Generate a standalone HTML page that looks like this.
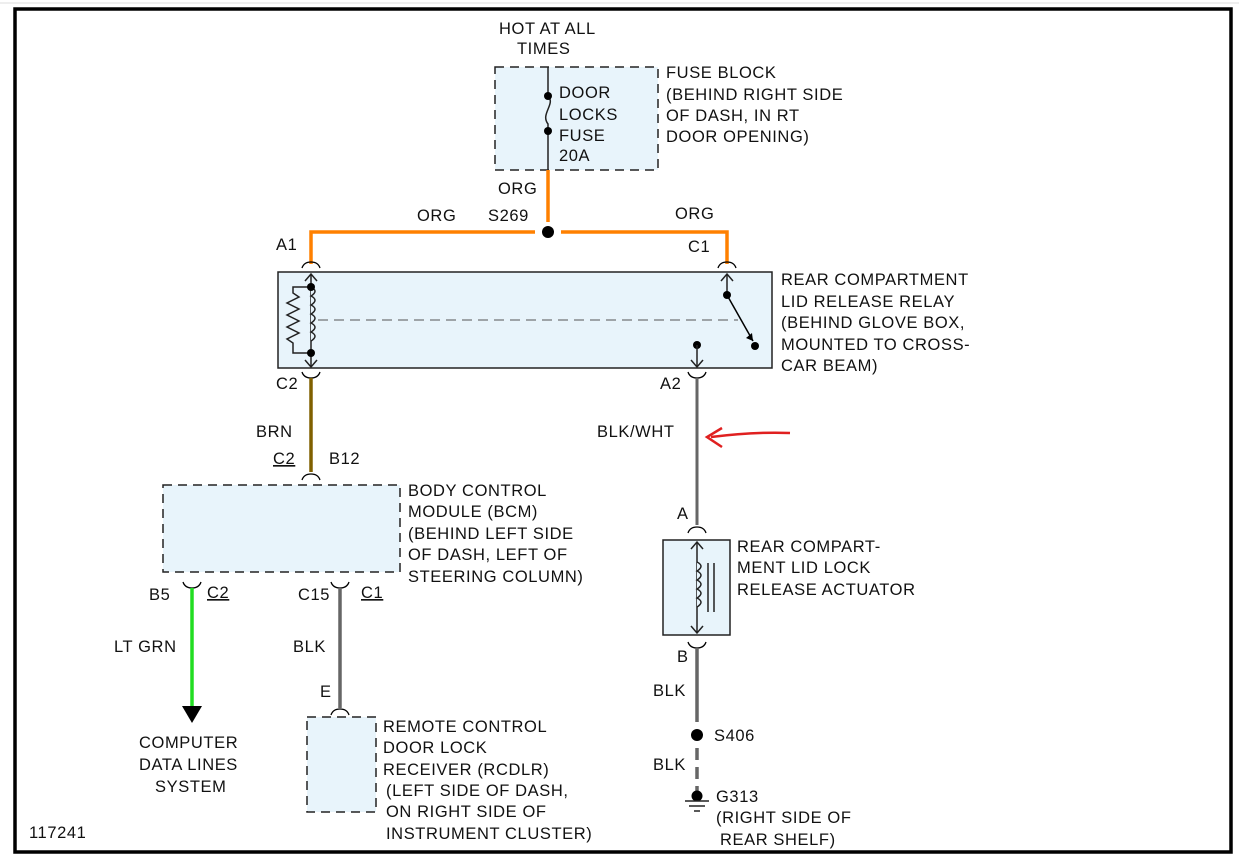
<!DOCTYPE html>
<html><head><meta charset="utf-8"><style>
html,body{margin:0;padding:0;background:#fff;}
svg{display:block;}
text{font-family:"Liberation Sans",Arial,sans-serif;font-size:16.5px;letter-spacing:0.6px;fill:#111;}
</style></head><body>
<svg width="1239" height="857" viewBox="0 0 1239 857" xmlns="http://www.w3.org/2000/svg">
<line x1="0" y1="3" x2="1239" y2="3" stroke="#ddd" stroke-width="1"/>
<rect x="15" y="9" width="1216" height="843" fill="#fff" stroke="#000" stroke-width="3.5"/>

<!-- Fuse block -->
<text x="499" y="34">HOT AT ALL</text>
<text x="517" y="54">TIMES</text>
<rect x="495" y="67" width="163" height="103" fill="#e8f4fb" stroke="#222" stroke-width="1.5" stroke-dasharray="9,6"/>
<line x1="548" y1="67" x2="548" y2="96" stroke="#222" stroke-width="1.5"/>
<path d="M548 96 C556 104,540 114,548 124 L548 130" fill="none" stroke="#222" stroke-width="1.5"/>
<line x1="548" y1="130" x2="548" y2="170" stroke="#222" stroke-width="1.5"/>
<circle cx="548" cy="96" r="4" fill="#000"/><circle cx="548" cy="131" r="4" fill="#000"/>
<text x="559" y="98">DOOR</text><text x="559" y="120">LOCKS</text><text x="559" y="141">FUSE</text><text x="559" y="161">20A</text>
<text x="666" y="78">FUSE BLOCK</text><text x="666" y="100">(BEHIND RIGHT SIDE</text><text x="666" y="121">OF DASH, IN RT</text><text x="666" y="142">DOOR OPENING)</text>

<!-- orange -->
<line x1="548" y1="170" x2="548" y2="222" stroke="#ff8000" stroke-width="3.5"/>
<text x="498" y="194">ORG</text>
<polyline points="311,264 311,232 535,232" fill="none" stroke="#ff8000" stroke-width="3.5"/>
<polyline points="561,232 727,232 727,264" fill="none" stroke="#ff8000" stroke-width="3.5"/>
<circle cx="548" cy="232" r="6" fill="#000"/>
<text x="417" y="221">ORG</text><text x="488" y="221">S269</text><text x="675" y="219">ORG</text>
<text x="276" y="250">A1</text><text x="688" y="252">C1</text>
<path d="M302 268 Q304 262 311 262 Q318 262 320 268" fill="none" stroke="#000" stroke-width="1.3"/>
<path d="M718 268 Q720 262 727 262 Q734 262 736 268" fill="none" stroke="#000" stroke-width="1.3"/>

<!-- relay -->
<rect x="278" y="272" width="494" height="96" fill="#e8f4fb" stroke="#222" stroke-width="1.5"/>
<line x1="311" y1="274" x2="311" y2="366" stroke="#222" stroke-width="1.5"/>
<path d="M305 281 L311 274 L317 281 M305 360 L311 367 L317 360" fill="none" stroke="#222" stroke-width="1.5"/>
<path d="M311 287 q8 4 0 9 q8 4 0 9 q8 4 0 9 q8 4 0 9 q8 4 0 9 q8 4 0 9" fill="#e8f4fb" stroke="#222" stroke-width="1.5"/>
<path d="M311 287 L293 287 L293 293 L299 297 L287 303 L299 309 L287 315 L299 321 L287 327 L299 333 L287 339 L293 343 L293 353 L311 353" fill="none" stroke="#222" stroke-width="1.5"/>
<circle cx="311" cy="287" r="4" fill="#000"/><circle cx="311" cy="353" r="4" fill="#000"/>
<line x1="318" y1="320" x2="738" y2="320" stroke="#555" stroke-width="1" stroke-dasharray="10,6"/>
<line x1="727" y1="274" x2="727" y2="295" stroke="#222" stroke-width="1.5"/>
<path d="M721 281 L727 274 L733 281" fill="none" stroke="#222" stroke-width="1.5"/>
<circle cx="727" cy="295" r="4" fill="#000"/>
<line x1="727" y1="295" x2="753" y2="341" stroke="#000" stroke-width="1.5"/>
<path d="M746 338 L753 341 L752 333 Z" fill="#000"/>
<circle cx="755" cy="346" r="4" fill="#000"/>
<circle cx="697" cy="345" r="4" fill="#000"/>
<line x1="697" y1="345" x2="697" y2="366" stroke="#222" stroke-width="1.5"/>
<path d="M691 360 L697 367 L703 360" fill="none" stroke="#222" stroke-width="1.5"/>
<text x="781" y="285">REAR COMPARTMENT</text><text x="781" y="307">LID RELEASE RELAY</text><text x="781" y="328">(BEHIND GLOVE BOX,</text><text x="781" y="350">MOUNTED TO CROSS-</text><text x="781" y="371">CAR BEAM)</text>

<!-- C2 brown -->
<path d="M302 372 Q304 378 311 378 Q318 378 320 372" fill="none" stroke="#000" stroke-width="1.3"/>
<text x="276" y="389">C2</text>
<line x1="311" y1="378" x2="311" y2="472" stroke="#806000" stroke-width="3.5"/>
<text x="256" y="437">BRN</text>
<text x="273" y="464" text-decoration="underline">C2</text><text x="329" y="464">B12</text>
<path d="M302 480 Q304 474 311 474 Q318 474 320 480" fill="none" stroke="#000" stroke-width="1.3"/>

<!-- BCM -->
<rect x="163" y="485" width="237" height="87" fill="#e8f4fb" stroke="#222" stroke-width="1.5" stroke-dasharray="9,6"/>
<text x="408" y="496">BODY CONTROL</text><text x="408" y="517">MODULE (BCM)</text><text x="408" y="539">(BEHIND LEFT SIDE</text><text x="408" y="560">OF DASH, LEFT OF</text><text x="408" y="582">STEERING COLUMN)</text>
<path d="M183 582 Q185 588 192 588 Q199 588 201 582" fill="none" stroke="#000" stroke-width="1.3"/>
<path d="M331 582 Q333 588 340 588 Q347 588 349 582" fill="none" stroke="#000" stroke-width="1.3"/>
<text x="149" y="600">B5</text><text x="207" y="598" text-decoration="underline">C2</text>
<text x="298" y="600">C15</text><text x="361" y="598" text-decoration="underline">C1</text>
<line x1="192" y1="588" x2="192" y2="708" stroke="#22dd22" stroke-width="3.5"/>
<path d="M182 706 L202 706 L192 723 Z" fill="#000"/>
<text x="114" y="652">LT GRN</text>
<text x="139" y="748">COMPUTER</text><text x="139" y="770">DATA LINES</text><text x="155" y="792">SYSTEM</text>
<line x1="340" y1="588" x2="340" y2="708" stroke="#666" stroke-width="3.5"/>
<text x="293" y="652">BLK</text><text x="320" y="697">E</text>
<path d="M331 715 Q333 709 340 709 Q347 709 349 715" fill="none" stroke="#000" stroke-width="1.3"/>
<rect x="307" y="717" width="69" height="95" fill="#e8f4fb" stroke="#222" stroke-width="1.5" stroke-dasharray="9,6"/>
<text x="383" y="732">REMOTE CONTROL</text><text x="383" y="753">DOOR LOCK</text><text x="383" y="775">RECEIVER (RCDLR)</text><text x="386" y="796">(LEFT SIDE OF DASH,</text><text x="386" y="817">ON RIGHT SIDE OF</text><text x="386" y="839">INSTRUMENT CLUSTER)</text>

<!-- A2 -->
<path d="M688 372 Q690 378 697 378 Q704 378 706 372" fill="none" stroke="#000" stroke-width="1.3"/>
<text x="660" y="389">A2</text>
<line x1="697" y1="378" x2="697" y2="525" stroke="#666" stroke-width="3"/>
<text x="597" y="437">BLK/WHT</text>
<path d="M790 433 C765 432,735 434,711 437" fill="none" stroke="#e02020" stroke-width="2.5"/>
<path d="M722 428 L707 437 L722 447" fill="none" stroke="#e02020" stroke-width="2.5"/>
<text x="677" y="519">A</text>
<path d="M688 533 Q690 527 697 527 Q704 527 706 533" fill="none" stroke="#000" stroke-width="1.3"/>
<rect x="663" y="540" width="67" height="95" fill="#e8f4fb" stroke="#222" stroke-width="1.5"/>
<line x1="697" y1="542" x2="697" y2="633" stroke="#222" stroke-width="1.5"/>
<path d="M691 549 L697 542 L703 549 M691 626 L697 633 L703 626" fill="none" stroke="#222" stroke-width="1.5"/>
<path d="M697 562 q8 4 0 9 q8 4 0 9 q8 4 0 9 q8 4 0 9 q8 4 0 9" fill="#e8f4fb" stroke="#222" stroke-width="1.5"/>
<line x1="708" y1="563" x2="708" y2="612" stroke="#222" stroke-width="1.5"/>
<line x1="714" y1="563" x2="714" y2="612" stroke="#222" stroke-width="1.5"/>
<text x="737" y="552">REAR COMPART-</text><text x="737" y="573">MENT LID LOCK</text><text x="737" y="595">RELEASE ACTUATOR</text>
<path d="M688 642 Q690 648 697 648 Q704 648 706 642" fill="none" stroke="#000" stroke-width="1.3"/>
<text x="677" y="662">B</text>
<line x1="697" y1="648" x2="697" y2="722" stroke="#666" stroke-width="3.5"/>
<text x="653" y="696">BLK</text>
<circle cx="697" cy="735" r="6" fill="#000"/>
<text x="714" y="741">S406</text>
<line x1="697" y1="748" x2="697" y2="792" stroke="#666" stroke-width="3.5" stroke-dasharray="12,7"/>
<text x="653" y="770">BLK</text>
<circle cx="697" cy="796" r="5.5" fill="#000"/>
<line x1="685" y1="801" x2="709" y2="801" stroke="#222" stroke-width="1.5"/>
<line x1="689" y1="806" x2="705" y2="806" stroke="#222" stroke-width="1.5"/>
<line x1="694" y1="811" x2="700" y2="811" stroke="#222" stroke-width="1.5"/>
<text x="716" y="802">G313</text><text x="716" y="823">(RIGHT SIDE OF</text><text x="720" y="845">REAR SHELF)</text>

<text x="29" y="838">117241</text>
</svg>
</body></html>
